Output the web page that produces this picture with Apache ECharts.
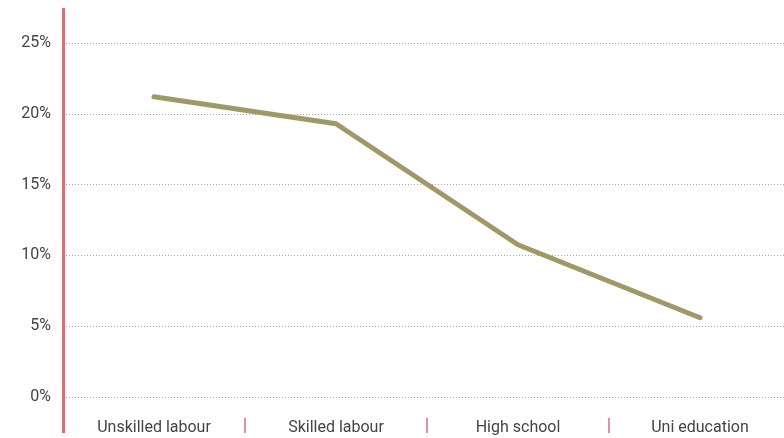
<!DOCTYPE html>
<html>
<head>
<meta charset="utf-8">
<script src="https://cdn.jsdelivr.net/npm/echarts@6/dist/echarts.min.js"></script>
<style>
  html, body { margin: 0; padding: 0; background: #fff; overflow: hidden; }
  /* the last category runs a little past the window's right edge */
  #chart { width: 791px; height: 438px; }
</style>
</head>
<body>
<div id="chart"></div>
<script>
// Share by education level (%)
const categories = ['Unskilled labour', 'Skilled labour', 'High school', 'Uni education'];
const shares = [21.2, 19.3, 10.75, 5.6];
const yTicks = [0, 5, 10, 15, 20, 25];

const AXIS_RED = '#d27178';
const LINE_COLOR = '#a09868';
const TEXT = '#444';
const FONT = 'Roboto, sans-serif';

const GRID_LEFT = 63;
const GRID_TOP = 43;
const GRID_BOTTOM = 41;

const chart = echarts.init(document.getElementById('chart'), null, { renderer: 'canvas' });

chart.setOption({
  animation: false,
  backgroundColor: '#fff',
  textStyle: { fontFamily: FONT },
  grid: [
    // plot area
    { left: GRID_LEFT, right: 0, top: GRID_TOP, bottom: GRID_BOTTOM, containLabel: false },
    // category strip under the plot
    { left: GRID_LEFT, right: 0, top: 418, height: 15, containLabel: false }
  ],
  xAxis: [
    {
      type: 'category',
      gridIndex: 0,
      data: categories,
      boundaryGap: true,
      axisLine: { show: false },
      axisTick: { show: false },
      axisLabel: { show: false },
      splitLine: { show: false }
    },
    {
      type: 'category',
      gridIndex: 1,
      data: categories,
      boundaryGap: true,
      position: 'bottom',
      axisLine: { show: false, lineStyle: { color: AXIS_RED } },
      axisTick: { show: true, inside: true, length: 15, lineStyle: { color: AXIS_RED, width: 1.5, opacity: 1 } },
      axisLabel: { margin: -13, color: TEXT, fontSize: 16, fontFamily: FONT, verticalAlign: 'top' },
      splitLine: { show: false }
    }
  ],
  yAxis: [
    {
      type: 'value',
      gridIndex: 0,
      min: yTicks[0],
      max: yTicks[yTicks.length - 1],
      interval: 5,
      axisLine: { show: false },
      axisTick: { show: false },
      axisLabel: {
        margin: 12,
        color: TEXT,
        fontSize: 16,
        fontFamily: FONT,
        formatter: v => v + '%'
      },
      splitLine: { show: true, lineStyle: { color: '#a8a8a8', type: [1, 2], width: 1 } }
    },
    {
      type: 'value',
      gridIndex: 1,
      show: false
    }
  ],
  series: [{
    type: 'line',
    xAxisIndex: 0,
    yAxisIndex: 0,
    data: shares,
    symbol: 'none',
    smooth: false,
    lineStyle: { color: LINE_COLOR, width: 5, cap: 'round', join: 'round' }
  }],
  graphic: [{
    // vertical axis rule, running past the plot at both ends
    type: 'line',
    shape: { x1: GRID_LEFT + 0.5, y1: 8, x2: GRID_LEFT + 0.5, y2: 433 },
    style: { stroke: AXIS_RED, lineWidth: 3 },
    z: 10
  }]
});
</script>
</body>
</html>
